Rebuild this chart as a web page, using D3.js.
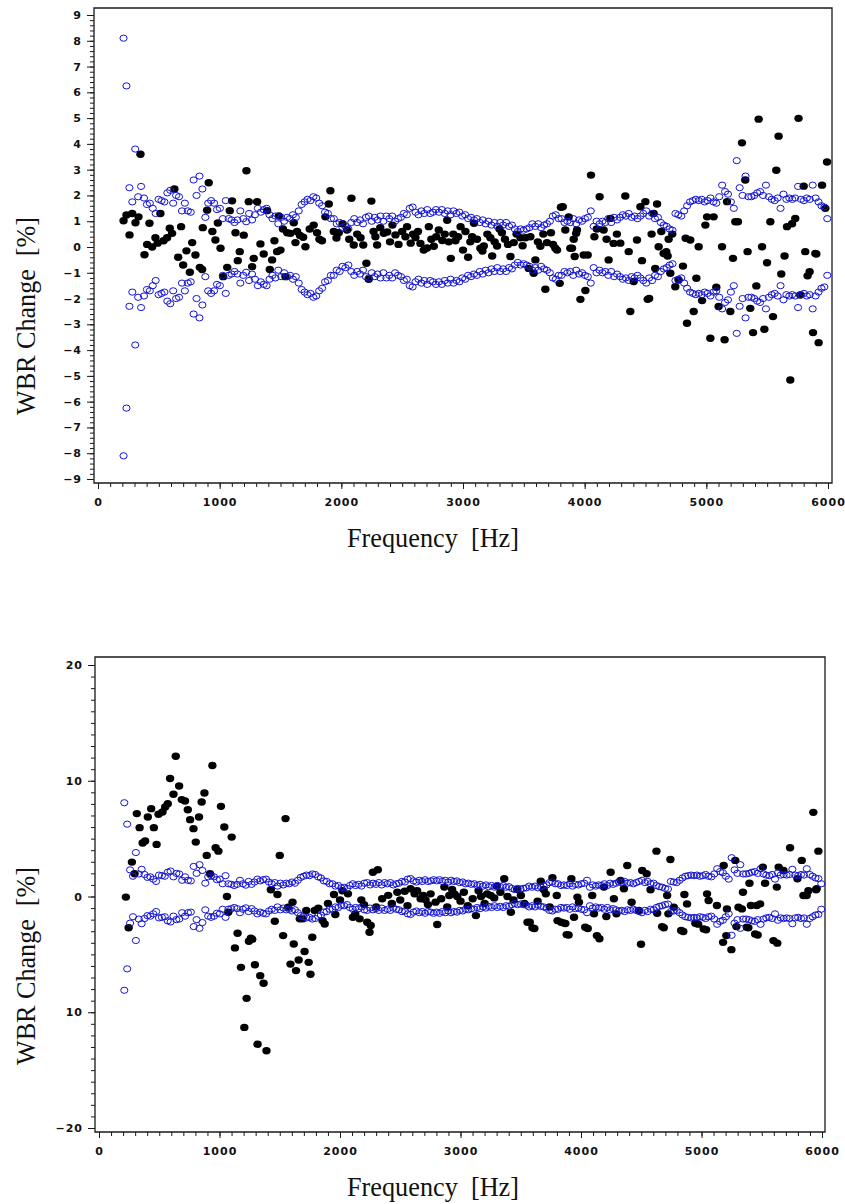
<!DOCTYPE html>
<html>
<head>
<meta charset="utf-8">
<script src="https://cdn.jsdelivr.net/npm/d3@7"></script>
<style>
  body { margin: 0; background: #fff; }
  svg { display: block; }
  .tick text { font-family: 'DejaVu Sans', sans-serif; font-weight: bold; font-size: 11px; letter-spacing: 1px; fill: #111; }
  .title { font-family: 'Liberation Serif', 'Times New Roman', serif; font-size: 28px; fill: #111; white-space: pre; }
</style>
</head>
<body>
<svg id="chart" width="845" height="1204"></svg>
<script>
// frequency grid of the confidence limits (Hz)
const limitFreq = [
  210, 234, 258, 282, 306, 330, 354, 378, 402, 426,
  450, 474, 498, 522, 546, 570, 594, 618, 642, 666,
  690, 714, 738, 762, 786, 810, 834, 858, 882, 906,
  930, 954, 978, 1002, 1026, 1050, 1074, 1098, 1122, 1146,
  1170, 1194, 1218, 1242, 1266, 1290, 1314, 1338, 1362, 1386,
  1410, 1434, 1458, 1482, 1506, 1530, 1554, 1578, 1602, 1626,
  1650, 1674, 1698, 1722, 1746, 1770, 1794, 1818, 1842, 1866,
  1890, 1914, 1938, 1962, 1986, 2010, 2034, 2058, 2082, 2106,
  2130, 2154, 2178, 2202, 2226, 2250, 2274, 2298, 2322, 2346,
  2370, 2394, 2418, 2442, 2466, 2490, 2514, 2538, 2562, 2586,
  2610, 2634, 2658, 2682, 2706, 2730, 2754, 2778, 2802, 2826,
  2850, 2874, 2898, 2922, 2946, 2970, 2994, 3018, 3042, 3066,
  3090, 3114, 3138, 3162, 3186, 3210, 3234, 3258, 3282, 3306,
  3330, 3354, 3378, 3402, 3426, 3450, 3474, 3498, 3522, 3546,
  3570, 3594, 3618, 3642, 3666, 3690, 3714, 3738, 3762, 3786,
  3810, 3834, 3858, 3882, 3906, 3930, 3954, 3978, 4002, 4026,
  4050, 4074, 4098, 4122, 4146, 4170, 4194, 4218, 4242, 4266,
  4290, 4314, 4338, 4362, 4386, 4410, 4434, 4458, 4482, 4506,
  4530, 4554, 4578, 4602, 4626, 4650, 4674, 4698, 4722, 4746,
  4770, 4794, 4818, 4842, 4866, 4890, 4914, 4938, 4962, 4986,
  5010, 5034, 5058, 5082, 5106, 5130, 5154, 5178, 5202, 5226,
  5250, 5274, 5298, 5322, 5346, 5370, 5394, 5418, 5442, 5466,
  5490, 5514, 5538, 5562, 5586, 5610, 5634, 5658, 5682, 5706,
  5730, 5754, 5778, 5802, 5826, 5850, 5874, 5898, 5922, 5946,
  5970, 5994
]

// upper confidence limit (%), blue open circles
const upperLimit = [
  8.1, 6.25, 2.3, 1.75, 3.8, 1.95, 2.35, 1.9, 1.65, 1.7,
  1.5, 1.3, 1.85, 1.8, 1.75, 2.1, 2.2, 1.7, 2.0, 1.95,
  1.4, 1.7, 1.4, 1.35, 2.6, 2.0, 2.75, 2.25, 1.15, 1.7,
  1.8, 1.7, 1.45, 1.5, 1.1, 1.8, 1.1, 1.05, 0.95, 1.05,
  1.4, 1.1, 0.98, 1.3, 1.05, 1.25, 1.5, 1.35, 1.45, 1.5,
  1.25, 1.1, 1.2, 0.9, 1.15, 1.0, 1.15, 1.1, 1.25, 1.15,
  1.4, 1.65, 1.75, 1.85, 1.8, 1.95, 1.9, 1.7, 1.6, 1.35,
  1.3, 1.1, 1.1, 0.9, 0.95, 0.75, 0.8, 0.7, 0.95, 1.1,
  0.95, 1.05, 0.9, 1.15, 1.2, 1.0, 1.15, 1.05, 1.2, 1.0,
  1.2, 1.1, 1.2, 1.0, 1.1, 1.15, 1.3, 1.25, 1.5, 1.55,
  1.35, 1.25, 1.4, 1.3, 1.45, 1.3, 1.35, 1.45, 1.35, 1.45,
  1.3, 1.4, 1.25, 1.4, 1.3, 1.35, 1.2, 1.25, 1.1, 1.15,
  1.05, 1.1, 0.95, 1.05, 0.9, 1.0, 0.85, 0.95, 0.8, 0.95,
  0.85, 0.95, 0.8, 0.85, 0.7, 0.6, 0.7, 0.65, 0.7, 0.75,
  0.9, 0.8, 0.9, 0.75, 0.85, 0.9, 1.0, 1.2, 1.25, 1.1,
  1.1, 0.95, 1.0, 0.95, 1.1, 0.9, 1.05, 1.0, 1.1, 1.15,
  1.4, 0.8, 1.0, 0.9, 1.0, 0.95, 1.1, 0.95, 1.15, 1.05,
  1.15, 1.25, 1.2, 1.3, 1.15, 1.2, 1.1, 1.2, 1.3, 1.4,
  1.2, 1.3, 1.1, 1.15, 0.95, 0.85, 0.8, 0.7, 0.65, 1.3,
  1.25, 1.2, 1.4, 1.6, 1.75, 1.8, 1.85, 1.8, 1.85, 1.75,
  1.8, 1.9, 1.75, 1.7, 1.95, 2.4, 2.15, 2.05, 1.75, 1.5,
  3.35, 2.3, 2.0, 2.75, 1.95, 1.95, 2.0, 2.1, 2.15, 2.0,
  2.4, 1.95, 1.85, 1.8, 1.9, 1.5, 2.05, 1.85, 1.9, 1.85,
  1.9, 2.35, 1.85, 1.8, 1.9, 1.85, 2.4, 1.9, 1.75, 1.6,
  1.55, 1.1
]

// lower confidence limit (%), blue open circles
const lowerLimit = [
  -8.1, -6.25, -2.3, -1.75, -3.8, -1.95, -2.35, -1.9, -1.65, -1.7,
  -1.5, -1.3, -1.85, -1.8, -1.75, -2.1, -2.2, -1.7, -2.0, -1.95,
  -1.4, -1.7, -1.4, -1.35, -2.6, -2.0, -2.75, -2.25, -1.15, -1.7,
  -1.8, -1.7, -1.45, -1.5, -1.1, -1.8, -1.1, -1.05, -0.95, -1.05,
  -1.4, -1.1, -0.98, -1.3, -1.05, -1.25, -1.5, -1.35, -1.45, -1.5,
  -1.25, -1.1, -1.2, -0.9, -1.15, -1.0, -1.15, -1.1, -1.25, -1.15,
  -1.4, -1.65, -1.75, -1.85, -1.8, -1.95, -1.9, -1.7, -1.6, -1.35,
  -1.3, -1.1, -1.1, -0.9, -0.95, -0.75, -0.8, -0.7, -0.95, -1.1,
  -0.95, -1.05, -0.9, -1.15, -1.2, -1.0, -1.15, -1.05, -1.2, -1.0,
  -1.2, -1.1, -1.2, -1.0, -1.1, -1.15, -1.3, -1.25, -1.5, -1.55,
  -1.35, -1.25, -1.4, -1.3, -1.45, -1.3, -1.35, -1.45, -1.35, -1.45,
  -1.3, -1.4, -1.25, -1.4, -1.3, -1.35, -1.2, -1.25, -1.1, -1.15,
  -1.05, -1.1, -0.95, -1.05, -0.9, -1.0, -0.85, -0.95, -0.8, -0.95,
  -0.85, -0.95, -0.8, -0.85, -0.7, -0.6, -0.7, -0.65, -0.7, -0.75,
  -0.9, -0.8, -0.9, -0.75, -0.85, -0.9, -1.0, -1.2, -1.25, -1.1,
  -1.1, -0.95, -1.0, -0.95, -1.1, -0.9, -1.05, -1.0, -1.1, -1.15,
  -1.4, -0.8, -1.0, -0.9, -1.0, -0.95, -1.1, -0.95, -1.15, -1.05,
  -1.15, -1.25, -1.2, -1.3, -1.15, -1.2, -1.1, -1.2, -1.3, -1.4,
  -1.2, -1.3, -1.1, -1.15, -0.95, -0.85, -0.8, -0.7, -0.65, -1.3,
  -1.25, -1.2, -1.4, -1.6, -1.75, -1.8, -1.85, -1.8, -1.85, -1.75,
  -1.8, -1.9, -1.75, -1.7, -1.95, -2.4, -2.15, -2.05, -1.75, -1.5,
  -3.35, -2.3, -2.0, -2.75, -1.95, -1.95, -2.0, -2.1, -2.15, -2.0,
  -2.4, -1.95, -1.85, -1.8, -1.9, -1.5, -2.05, -1.85, -1.9, -1.85,
  -1.9, -2.35, -1.85, -1.8, -1.9, -1.85, -2.4, -1.9, -1.75, -1.6,
  -1.55, -1.1
]

// WBR change, upper chart: [frequency Hz, change %]
const topWbr = [
  [210, 1.02], [234, 1.24], [259, 0.47], [281, 1.3], [308, 0.94], [333, 1.17], [349, 3.6], [382, -0.3],
  [404, 0.1], [423, 0.92], [445, 0.0], [472, 0.36], [490, 0.15], [513, 1.3], [539, 0.24], [568, 0.36],
  [590, 0.73], [609, 0.53], [628, 2.25], [659, -0.4], [683, 0.79], [700, -0.7], [727, -0.15], [755, -0.98],
  [774, 0.17], [801, -0.31], [837, -0.79], [856, -0.87], [861, 0.75], [897, 1.43], [910, 2.49], [940, 0.6],
  [965, 0.27], [985, 0.93], [1007, -0.05], [1029, -1.15], [1062, -0.79], [1083, 1.41], [1102, 1.79], [1130, 0.55],
  [1149, -0.53], [1165, -0.18], [1198, 0.46], [1220, 2.96], [1239, 1.76], [1267, -0.76], [1280, -0.44], [1308, 1.76],
  [1335, 0.12], [1362, -0.27], [1390, 1.41], [1412, -0.87], [1431, -0.5], [1450, 0.24], [1472, -0.18], [1486, 1.2],
  [1500, -0.12], [1520, 0.7], [1541, -1.15], [1555, 0.55], [1582, 0.53], [1609, 0.94], [1623, 0.17], [1636, 0.6],
  [1660, 0.45], [1686, 0.38], [1705, 0.01], [1740, 0.7], [1773, 0.85], [1800, 0.55], [1820, 0.3], [1841, 0.24],
  [1869, 1.17], [1897, 1.67], [1910, 2.18], [1938, 0.6], [1960, 0.35], [1979, 0.55], [2010, 0.9], [2047, 0.66],
  [2065, 0.3], [2083, 1.89], [2102, 0.08], [2130, 0.5], [2158, 0.36], [2180, 0.08], [2206, -0.63], [2225, -1.25],
  [2247, 1.78], [2265, 0.6], [2280, 0.4], [2294, 0.08], [2320, 0.75], [2349, 0.53], [2377, 0.58], [2400, 0.2],
  [2420, 0.85], [2445, 0.47], [2470, 0.1], [2500, 0.6], [2527, 0.4], [2540, 0.79], [2570, 0.15], [2590, 0.5],
  [2609, 0.37], [2630, 0.6], [2650, 0.14], [2677, -0.12], [2705, -0.04], [2719, 0.79], [2740, 0.3], [2760, 0.03],
  [2780, 0.4], [2801, 0.66], [2830, 0.25], [2850, 0.5], [2870, 1.04], [2883, 0.2], [2900, -0.44], [2920, 0.5],
  [2938, 0.24], [2960, 0.4], [2980, 0.79], [3000, -0.12], [3020, 0.6], [3042, -0.4], [3060, 0.2], [3075, 0.4],
  [3090, 0.92], [3115, 0.3], [3143, -0.05], [3160, -0.16], [3171, 0.04], [3200, 0.5], [3225, 0.36], [3240, -0.35],
  [3260, 0.2], [3280, 0.04], [3300, 0.7], [3320, 0.55], [3345, 0.3], [3370, 0.1], [3390, -0.37], [3417, 0.17],
  [3440, 0.5], [3472, 0.36], [3490, 0.05], [3513, 0.36], [3540, -0.83], [3554, 0.4], [3581, -1.02], [3595, -0.5],
  [3615, 0.2], [3636, 0.03], [3660, 0.5], [3677, -1.64], [3690, 0.17], [3723, 0.55], [3740, 0.1], [3759, -0.05],
  [3773, -0.12], [3795, -1.41], [3805, 1.54], [3820, 1.56], [3841, 0.66], [3869, 1.17], [3882, -0.05], [3896, -0.05],
  [3910, 0.3], [3918, -0.37], [3930, 0.53], [3937, 0.66], [3965, -2.03], [3992, -0.31], [4006, -1.69], [4025, -0.31],
  [4052, 2.79], [4080, 0.4], [4100, 0.7], [4123, 1.95], [4156, 0.66], [4180, 0.3], [4197, -0.5], [4211, 1.11],
  [4238, 0.14], [4265, 0.5], [4293, 0.15], [4334, 1.98], [4362, -0.18], [4375, -2.5], [4403, -1.34], [4430, 0.27],
  [4458, 1.56], [4471, -0.53], [4499, 1.76], [4518, -2.03], [4530, -2.0], [4550, 0.5], [4567, 1.3], [4580, -0.83],
  [4595, 1.67], [4608, 0.01], [4630, 0.6], [4649, -0.25], [4671, -0.18], [4682, -0.35], [4690, 0.3], [4704, -1.02],
  [4720, 0.5], [4745, -1.54], [4772, -1.28], [4808, -0.74], [4830, 0.34], [4841, -2.96], [4868, 0.27], [4896, -2.5],
  [4918, -1.21], [4937, 0.01], [4965, -2.08], [4992, 0.85], [5006, 1.17], [5033, -3.54], [5060, 1.17], [5082, -1.56],
  [5101, -2.31], [5129, 0.01], [5150, -3.6], [5170, 1.76], [5197, -2.5], [5219, -0.44], [5238, 0.98], [5260, 0.98],
  [5293, 4.04], [5320, 2.6], [5339, -0.18], [5361, -2.38], [5384, -3.32], [5411, -1.51], [5430, 4.96], [5458, 0.01],
  [5477, -3.19], [5499, -0.61], [5526, 0.98], [5548, -2.7], [5575, 2.98], [5594, 4.3], [5616, -1.05], [5643, -0.35],
  [5663, 0.79], [5690, -5.16], [5705, 0.9], [5731, 1.11], [5758, 4.99], [5772, -1.86], [5800, 2.36], [5813, -0.18],
  [5832, -1.12], [5849, -0.96], [5877, -3.32], [5896, -0.25], [5904, -0.27], [5923, -3.71], [5951, 2.4], [5978, 1.5],
  [5992, 3.3]
]

// WBR change, lower chart: [frequency Hz, change %]
const bottomWbr = [
  [223, -0.05], [246, -2.7], [273, 2.97], [295, 1.96], [314, 7.16], [337, 5.95], [362, 4.62], [383, 4.79],
  [405, 6.87], [433, 7.59], [455, 5.95], [478, 4.5], [494, 7.1], [527, 7.3], [549, 7.73], [571, 8.02],
  [590, 10.19], [618, 8.83], [637, 12.12], [665, 9.55], [687, 8.37], [714, 8.25], [737, 7.5], [756, 6.64],
  [784, 5.86], [803, 4.7], [830, 6.87], [852, 8.16], [875, 8.94], [894, 3.55], [921, 1.96], [941, 11.32],
  [968, 4.21], [991, 3.92], [1012, 7.79], [1040, 6.0], [1062, 0.0], [1073, -1.36], [1101, 5.13], [1128, -4.44],
  [1150, -3.18], [1178, -6.12], [1206, -11.31], [1225, -8.8], [1244, -3.87], [1260, -3.6], [1272, -3.69], [1294, -5.89],
  [1316, -12.76], [1338, -6.84], [1366, -7.5], [1390, -13.33], [1426, 0.58], [1459, -2.14], [1481, 0.17], [1500, 3.55],
  [1528, -3.38], [1548, 6.73], [1570, -0.92], [1589, -5.84], [1606, -0.5], [1616, -4.1], [1635, -6.4], [1657, -5.48],
  [1666, -1.93], [1690, -1.93], [1706, -4.75], [1720, -1.2], [1740, -5.69], [1755, -6.72], [1770, -3.52], [1790, -1.21],
  [1820, -1.0], [1855, -2.08], [1873, -2.37], [1900, -0.6], [1950, 0.17], [1961, -1.56], [2000, -0.3], [2020, 0.5],
  [2066, 0.23], [2107, -1.79], [2127, -1.5], [2163, -1.93], [2177, -0.29], [2200, -0.7], [2226, -2.22], [2245, -3.09],
  [2255, -2.5], [2273, 2.1], [2300, -0.9], [2314, 2.31], [2350, -0.2], [2400, 0.1], [2430, -0.6], [2476, 0.37],
  [2500, -0.3], [2537, 0.46], [2560, -0.8], [2586, 0.67], [2619, 0.23], [2640, 0.5], [2669, -0.2], [2690, 0.1],
  [2710, -0.29], [2730, -0.7], [2752, 0.23], [2793, -0.49], [2807, -2.42], [2840, -0.2], [2866, 0.81], [2890, -0.9],
  [2907, 0.09], [2930, 0.6], [2949, 0.23], [2973, 0.0], [3000, -0.4], [3028, 0.37], [3060, -0.8], [3101, -0.2],
  [3128, -1.65], [3150, 0.5], [3170, 0.0], [3200, -0.6], [3221, 0.23], [3250, 0.1], [3280, -0.12], [3300, 0.9],
  [3331, 0.37], [3363, 1.53], [3390, 0.0], [3418, -1.36], [3440, -0.3], [3470, 0.6], [3501, 0.09], [3530, -0.6],
  [3556, -2.22], [3575, -2.23], [3597, -2.71], [3613, -2.77], [3640, -0.4], [3666, 1.32], [3690, 0.6], [3708, 0.23],
  [3740, -0.9], [3763, 1.62], [3799, 0.09], [3805, -2.08], [3835, -2.22], [3859, -2.3], [3870, -2.33], [3881, -3.29],
  [3897, -3.33], [3920, 1.53], [3942, -1.79], [3970, -0.05], [3983, -0.49], [4035, -2.66], [4056, -2.77], [4093, 0.09],
  [4108, -1.5], [4132, -3.38], [4153, -3.65], [4190, 0.81], [4210, -1.73], [4246, 2.1], [4273, -0.2], [4294, -1.5],
  [4328, 1.39], [4356, 0.67], [4384, 2.68], [4420, -0.5], [4480, -1.21], [4498, -4.12], [4508, 2.25], [4545, 1.96],
  [4577, 0.58], [4626, 3.92], [4632, -1.45], [4673, -2.6], [4687, -2.7], [4715, 0.09], [4725, -1.5], [4742, 3.2],
  [4770, -0.92], [4831, -2.94], [4849, -3.02], [4858, 0.17], [4880, -0.64], [4949, -2.31], [4972, -2.39], [5018, -2.8],
  [5038, -2.87], [5046, 0.23], [5059, -0.35], [5128, -0.78], [5179, -3.96], [5184, 2.68], [5206, -3.38], [5211, -1.07],
  [5248, -4.59], [5280, 3.12], [5290, -2.6], [5307, -0.92], [5335, -1.07], [5344, 0.37], [5376, -2.66], [5389, -2.7],
  [5398, 1.15], [5410, -0.78], [5445, -3.23], [5459, -0.78], [5466, -3.33], [5487, -0.64], [5509, 2.54], [5528, 1.15],
  [5597, -3.81], [5625, 0.81], [5629, -4.03], [5640, 2.54], [5680, 2.25], [5735, 4.21], [5796, 1.53], [5832, 3.12],
  [5846, 0.09], [5873, 0.09], [5887, 0.5], [5928, 7.27], [5951, 0.58], [5956, 0.67], [5970, 3.92]
]

// axis ticks and labels
const xTicks = [0, 1000, 2000, 3000, 4000, 5000, 6000]
const xTickLabels = ['0', '1000', '2000', '3000', '4000', '5000', '6000']
const topYTicks = [-9, -8, -7, -6, -5, -4, -3, -2, -1, 0, 1, 2, 3, 4, 5, 6, 7, 8, 9]
const topYTickLabels = ['−9', '−8', '−7', '−6', '−5', '−4', '−3', '−2', '−1', '0', '1', '2', '3', '4', '5', '6', '7', '8', '9']
const bottomYTicks = [-20, -10, 0, 10, 20]
const bottomYTickLabels = ['−20', '10', '0', '10', '20']

const svg = d3.select('#chart')

function drawPanel (p) {
  const x = d3.scaleLinear().domain([0, 6000]).range(p.xRange)
  const y = d3.scaleLinear().domain(p.yDomain).range(p.yRange)
  const f = p.frame
  const g = svg.append('g').attr('color', '#1a1a1a')

  // frame
  g.append('path')
    .attr('d', `M${f.left},${f.bottom}V${f.top}H${f.right}V${f.bottom}Z`)
    .attr('fill', 'none')
    .attr('stroke', '#1a1a1a')
    .attr('stroke-width', 1.3)

  //* * x axis: minor then major ticks
  const gx = g.append('g').attr('transform', `translate(0,${f.bottom})`)
  gx.append('g')
    .call(d3.axisBottom(x).tickValues(d3.range(0, 6001, 100)).tickSize(4).tickFormat(''))
  gx.append('g')
    .call(d3.axisBottom(x).tickValues(xTicks).tickSize(6).tickPadding(9)
      .tickFormat((d, i) => xTickLabels[i]))
  gx.selectAll('.domain').remove()

  //* * y axis
  const gy = g.append('g').attr('transform', `translate(${f.left},0)`)
  gy.append('g')
    .call(d3.axisLeft(y).tickValues(p.yMinor).tickSize(4).tickFormat(''))
  gy.append('g')
    .call(d3.axisLeft(y).tickValues(p.yTicks).tickSize(7).tickPadding(5)
      .tickFormat((d, i) => p.yLabels[i]))
  gy.selectAll('.domain').remove()

  // black: measured change
  g.append('g').selectAll('ellipse')
    .data(p.wbr)
    .enter().append('ellipse')
    .attr('cx', d => x(d[0]))
    .attr('cy', d => y(d[1]))
    .attr('rx', 4.2)
    .attr('ry', 3.7)
    .attr('fill', '#000')

  // blue: confidence limits
  const limits = limitFreq.map((fr, i) => [fr, upperLimit[i]])
    .concat(limitFreq.map((fr, i) => [fr, lowerLimit[i]]))
  g.append('g').selectAll('ellipse')
    .data(limits)
    .enter().append('ellipse')
    .attr('cx', d => x(d[0]))
    .attr('cy', d => y(d[1]))
    .attr('rx', 3.6)
    .attr('ry', 3.1)
    .attr('fill', 'none')
    .attr('stroke', '#1414d2')
    .attr('stroke-width', 1)

  // titles
  g.append('text')
    .attr('class', 'title')
    .attr('x', p.xTitle[0])
    .attr('y', p.xTitle[1])
    .attr('text-anchor', 'middle')
    .attr('textLength', 172)
    .attr('lengthAdjust', 'spacingAndGlyphs')
    .text('Frequency  [Hz]')
  g.append('text')
    .attr('class', 'title')
    .attr('transform', `translate(${p.yTitle[0]},${p.yTitle[1]}) rotate(-90)`)
    .attr('text-anchor', 'middle')
    .attr('textLength', 198)
    .attr('lengthAdjust', 'spacingAndGlyphs')
    .text('WBR Change  [%]')
}

drawPanel({
  wbr: topWbr,
  xRange: [98, 828],
  yDomain: [-9, 9],
  yRange: [479, 15],
  frame: { left: 94, top: 8, right: 832, bottom: 483 },
  yTicks: topYTicks,
  yLabels: topYTickLabels,
  yMinor: d3.range(-9, 9.01, 0.2),
  xTitle: [433, 547],
  yTitle: [35, 316]
})

drawPanel({
  wbr: bottomWbr,
  xRange: [99, 822],
  yDomain: [-20, 20],
  yRange: [1128, 665],
  frame: { left: 95, top: 657, right: 825, bottom: 1132 },
  yTicks: bottomYTicks,
  yLabels: bottomYTickLabels,
  yMinor: d3.range(-20, 21, 1),
  xTitle: [433, 1196],
  yTitle: [35, 966]
})
</script>
</body>
</html>
